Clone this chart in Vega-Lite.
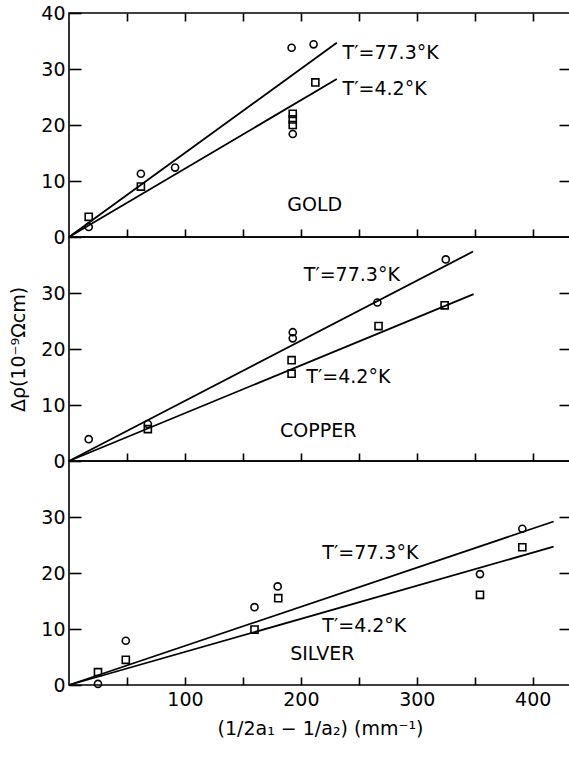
{
  "$schema": "https://vega.github.io/schema/vega-lite/v6.json",
  "autosize": {"type": "pad"},
  "padding": {"left": 9, "top": 3, "right": 0, "bottom": 5},
  "background": "white",
  "spacing": 0,
  "bounds": "flush",
  "datasets": {
    "pts": [
      {"panel": "gold", "T": "77.3", "x": 17, "y": 1.8},
      {"panel": "gold", "T": "77.3", "x": 62, "y": 11.3},
      {"panel": "gold", "T": "77.3", "x": 91.5, "y": 12.4},
      {"panel": "gold", "T": "77.3", "x": 192, "y": 33.8},
      {"panel": "gold", "T": "77.3", "x": 211, "y": 34.4},
      {"panel": "gold", "T": "77.3", "x": 193, "y": 18.4},
      {"panel": "gold", "T": "4.2", "x": 17, "y": 3.6},
      {"panel": "gold", "T": "4.2", "x": 62, "y": 9.0},
      {"panel": "gold", "T": "4.2", "x": 212.5, "y": 27.6},
      {"panel": "gold", "T": "4.2", "x": 193, "y": 22.0},
      {"panel": "gold", "T": "4.2", "x": 193, "y": 21.0},
      {"panel": "gold", "T": "4.2", "x": 193, "y": 20.0},
      {"panel": "copper", "T": "77.3", "x": 17, "y": 3.9},
      {"panel": "copper", "T": "77.3", "x": 68, "y": 6.6},
      {"panel": "copper", "T": "77.3", "x": 193, "y": 23.0},
      {"panel": "copper", "T": "77.3", "x": 193, "y": 21.9},
      {"panel": "copper", "T": "77.3", "x": 266, "y": 28.3},
      {"panel": "copper", "T": "77.3", "x": 325, "y": 36.0},
      {"panel": "copper", "T": "4.2", "x": 68, "y": 5.7},
      {"panel": "copper", "T": "4.2", "x": 192, "y": 18.0},
      {"panel": "copper", "T": "4.2", "x": 192, "y": 15.6},
      {"panel": "copper", "T": "4.2", "x": 267, "y": 24.1},
      {"panel": "copper", "T": "4.2", "x": 324, "y": 27.8},
      {"panel": "silver", "T": "77.3", "x": 25, "y": 0.2},
      {"panel": "silver", "T": "77.3", "x": 49, "y": 7.9},
      {"panel": "silver", "T": "77.3", "x": 160, "y": 13.9},
      {"panel": "silver", "T": "77.3", "x": 180, "y": 17.6},
      {"panel": "silver", "T": "77.3", "x": 354.5, "y": 19.8},
      {"panel": "silver", "T": "77.3", "x": 391, "y": 27.9},
      {"panel": "silver", "T": "4.2", "x": 25, "y": 2.3},
      {"panel": "silver", "T": "4.2", "x": 49, "y": 4.5},
      {"panel": "silver", "T": "4.2", "x": 160, "y": 9.9},
      {"panel": "silver", "T": "4.2", "x": 180.5, "y": 15.5},
      {"panel": "silver", "T": "4.2", "x": 354.5, "y": 16.1},
      {"panel": "silver", "T": "4.2", "x": 391, "y": 24.6}
    ],
    "fits": [
      {"panel": "gold", "T": "77.3", "x": 0, "y": 0},
      {"panel": "gold", "T": "77.3", "x": 231, "y": 34.7},
      {"panel": "gold", "T": "4.2", "x": 0, "y": 0},
      {"panel": "gold", "T": "4.2", "x": 231, "y": 28.2},
      {"panel": "copper", "T": "77.3", "x": 0, "y": 0},
      {"panel": "copper", "T": "77.3", "x": 348.5, "y": 37.4},
      {"panel": "copper", "T": "4.2", "x": 0, "y": 0},
      {"panel": "copper", "T": "4.2", "x": 349, "y": 29.8},
      {"panel": "silver", "T": "77.3", "x": 0, "y": 0},
      {"panel": "silver", "T": "77.3", "x": 418, "y": 29.2},
      {"panel": "silver", "T": "4.2", "x": 0, "y": 0},
      {"panel": "silver", "T": "4.2", "x": 418, "y": 24.7}
    ],
    "notes": [
      {"panel": "gold", "kind": "line", "x": 236, "y": 32.8, "text": "T′=77.3°K"},
      {"panel": "gold", "kind": "line", "x": 236, "y": 26.4, "text": "T′=4.2°K"},
      {"panel": "gold", "kind": "name", "x": 212, "y": 5.7, "text": "GOLD"},
      {"panel": "copper", "kind": "line", "x": 202.5, "y": 33.2, "text": "T′=77.3°K"},
      {"panel": "copper", "kind": "line", "x": 204.7, "y": 15.0, "text": "T′=4.2°K"},
      {"panel": "copper", "kind": "name", "x": 215, "y": 5.4, "text": "COPPER"},
      {"panel": "silver", "kind": "line", "x": 218.5, "y": 23.6, "text": "T′=77.3°K"},
      {"panel": "silver", "kind": "line", "x": 218.5, "y": 10.5, "text": "T′=4.2°K"},
      {"panel": "silver", "kind": "name", "x": 218.5, "y": 5.5, "text": "SILVER"}
    ]
  },
  "vconcat": [
    {
      "width": 502, "height": 224,
      "layer": [
        {
          "data": {"name": "fits"},
          "transform": [{"filter": "datum.panel === 'gold'"}],
          "mark": {"type": "line", "color": "black", "strokeWidth": 1.8},
          "encoding": {
            "x": {"field": "x", "type": "quantitative", "scale": {"domain": [0, 433], "nice": false, "zero": false},
                  "axis": {"orient": "bottom", "values": [50,100,150,200,250,300,350,400], "labels": false, "tickSize": -8, "title": null}},
            "y": {"field": "y", "type": "quantitative", "scale": {"domain": [0, 40], "nice": false},
                  "axis": {"orient": "left", "values": [0,10,20,30,40], "tickSize": -12, "labelPadding": 16, "title": null}},
            "detail": {"field": "T"}
          }
        },
        {
          "data": {"name": "pts"},
          "transform": [{"filter": "datum.panel === 'gold'"}],
          "mark": {"type": "point", "filled": false, "color": "black", "strokeWidth": 1.6, "size": 50, "opacity": 1},
          "encoding": {
            "x": {"field": "x", "type": "quantitative",
                  "axis": {"orient": "top", "values": [50,100,150,200,250,300,350,400], "labels": false, "tickSize": -8, "title": null}},
            "y": {"field": "y", "type": "quantitative",
                  "axis": {"orient": "right", "values": [10,20,30], "labels": false, "tickSize": -12, "title": null}},
            "shape": {"field": "T", "type": "nominal", "scale": {"domain": ["77.3", "4.2"], "range": ["circle", "square"]}, "legend": null}
          }
        },
        {
          "data": {"name": "notes"},
          "transform": [{"filter": "datum.panel === 'gold' && datum.kind === 'line'"}],
          "mark": {"type": "text", "align": "left", "baseline": "middle", "font": "DejaVu Sans", "fontSize": 19, "color": "black"},
          "encoding": {
            "x": {"field": "x", "type": "quantitative", "axis": null},
            "y": {"field": "y", "type": "quantitative", "axis": null},
            "text": {"field": "text"}
          }
        },
        {
          "data": {"name": "notes"},
          "transform": [{"filter": "datum.panel === 'gold' && datum.kind === 'name'"}],
          "mark": {"type": "text", "align": "center", "baseline": "middle", "font": "DejaVu Sans", "fontSize": 19, "color": "black"},
          "encoding": {
            "x": {"field": "x", "type": "quantitative", "axis": null},
            "y": {"field": "y", "type": "quantitative", "axis": null},
            "text": {"field": "text"}
          }
        }
      ],
      "resolve": {"axis": {"x": "independent", "y": "independent"}}
    },
    {
      "width": 502, "height": 224,
      "layer": [
        {
          "data": {"name": "fits"},
          "transform": [{"filter": "datum.panel === 'copper'"}],
          "mark": {"type": "line", "color": "black", "strokeWidth": 1.8},
          "encoding": {
            "x": {"field": "x", "type": "quantitative", "scale": {"domain": [0, 433], "nice": false, "zero": false},
                  "axis": {"orient": "bottom", "values": [50,100,150,200,250,300,350,400], "labels": false, "tickSize": -8, "title": null}},
            "y": {"field": "y", "type": "quantitative", "scale": {"domain": [0, 40], "nice": false},
                  "axis": {"orient": "left", "values": [0,10,20,30], "tickSize": -12, "labelPadding": 16, "title": "Δρ(10⁻⁹Ωcm)", "titlePadding": 12}},
            "detail": {"field": "T"}
          }
        },
        {
          "data": {"name": "pts"},
          "transform": [{"filter": "datum.panel === 'copper'"}],
          "mark": {"type": "point", "filled": false, "color": "black", "strokeWidth": 1.6, "size": 50, "opacity": 1},
          "encoding": {
            "x": {"field": "x", "type": "quantitative", "axis": null},
            "y": {"field": "y", "type": "quantitative",
                  "axis": {"orient": "right", "values": [10,20,30], "labels": false, "tickSize": -12, "title": null}},
            "shape": {"field": "T", "type": "nominal", "scale": {"domain": ["77.3", "4.2"], "range": ["circle", "square"]}, "legend": null}
          }
        },
        {
          "data": {"name": "notes"},
          "transform": [{"filter": "datum.panel === 'copper' && datum.kind === 'line'"}],
          "mark": {"type": "text", "align": "left", "baseline": "middle", "font": "DejaVu Sans", "fontSize": 19, "color": "black"},
          "encoding": {
            "x": {"field": "x", "type": "quantitative", "axis": null},
            "y": {"field": "y", "type": "quantitative", "axis": null},
            "text": {"field": "text"}
          }
        },
        {
          "data": {"name": "notes"},
          "transform": [{"filter": "datum.panel === 'copper' && datum.kind === 'name'"}],
          "mark": {"type": "text", "align": "center", "baseline": "middle", "font": "DejaVu Sans", "fontSize": 19, "color": "black"},
          "encoding": {
            "x": {"field": "x", "type": "quantitative", "axis": null},
            "y": {"field": "y", "type": "quantitative", "axis": null},
            "text": {"field": "text"}
          }
        }
      ],
      "resolve": {"axis": {"x": "independent", "y": "independent"}}
    },
    {
      "width": 502, "height": 224,
      "layer": [
        {
          "data": {"name": "fits"},
          "transform": [{"filter": "datum.panel === 'silver'"}],
          "mark": {"type": "line", "color": "black", "strokeWidth": 1.8},
          "encoding": {
            "x": {"field": "x", "type": "quantitative", "scale": {"domain": [0, 433], "nice": false, "zero": false},
                  "axis": {"orient": "bottom", "values": [50,100,150,200,250,300,350,400], "tickSize": -8, "labelPadding": 13,
                           "labelExpr": "datum.value % 100 === 0 ? datum.label : ''",
                           "title": "(1/2a₁ − 1/a₂) (mm⁻¹)", "titlePadding": 10}},
            "y": {"field": "y", "type": "quantitative", "scale": {"domain": [0, 40], "nice": false},
                  "axis": {"orient": "left", "values": [0,10,20,30], "tickSize": -12, "labelPadding": 16, "title": null}},
            "detail": {"field": "T"}
          }
        },
        {
          "data": {"name": "pts"},
          "transform": [{"filter": "datum.panel === 'silver'"}],
          "mark": {"type": "point", "filled": false, "color": "black", "strokeWidth": 1.6, "size": 50, "opacity": 1},
          "encoding": {
            "x": {"field": "x", "type": "quantitative", "axis": null},
            "y": {"field": "y", "type": "quantitative",
                  "axis": {"orient": "right", "values": [10,20,30], "labels": false, "tickSize": -12, "title": null}},
            "shape": {"field": "T", "type": "nominal", "scale": {"domain": ["77.3", "4.2"], "range": ["circle", "square"]}, "legend": null}
          }
        },
        {
          "data": {"name": "notes"},
          "transform": [{"filter": "datum.panel === 'silver' && datum.kind === 'line'"}],
          "mark": {"type": "text", "align": "left", "baseline": "middle", "font": "DejaVu Sans", "fontSize": 19, "color": "black"},
          "encoding": {
            "x": {"field": "x", "type": "quantitative", "axis": null},
            "y": {"field": "y", "type": "quantitative", "axis": null},
            "text": {"field": "text"}
          }
        },
        {
          "data": {"name": "notes"},
          "transform": [{"filter": "datum.panel === 'silver' && datum.kind === 'name'"}],
          "mark": {"type": "text", "align": "center", "baseline": "middle", "font": "DejaVu Sans", "fontSize": 19, "color": "black"},
          "encoding": {
            "x": {"field": "x", "type": "quantitative", "axis": null},
            "y": {"field": "y", "type": "quantitative", "axis": null},
            "text": {"field": "text"}
          }
        }
      ],
      "resolve": {"axis": {"x": "independent", "y": "independent"}}
    }
  ],
  "config": {
    "view": {"stroke": "black", "strokeWidth": 1.6},
    "axis": {
      "domain": false, "grid": false,
      "tickColor": "black", "tickWidth": 1.6,
      "labelFont": "DejaVu Sans", "labelFontSize": 19, "labelColor": "black",
      "titleFont": "DejaVu Sans", "titleFontSize": 19, "titleFontWeight": "normal", "titleColor": "black"
    }
  }
}
